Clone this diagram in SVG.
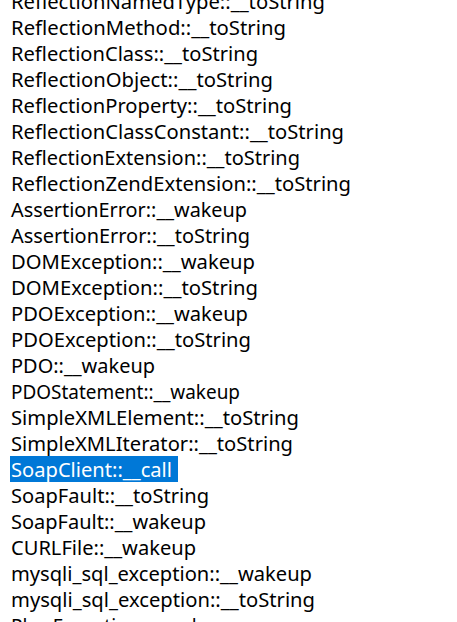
<svg xmlns="http://www.w3.org/2000/svg" width="457" height="622" viewBox="0 0 457 622">
<style>
text{font-family:"Noto Sans","Open Sans","DejaVu Sans",sans-serif;font-size:20px;fill:#000}
text.sel{fill:#fff}
</style>
<rect x="0" y="0" width="457" height="622" fill="#fff"/>
<g id="list">
<text x="11" y="9" textLength="314" lengthAdjust="spacingAndGlyphs">ReflectionNamedType::__toString</text>
<text x="11" y="35" textLength="275" lengthAdjust="spacingAndGlyphs">ReflectionMethod::__toString</text>
<text x="11" y="61" textLength="247" lengthAdjust="spacingAndGlyphs">ReflectionClass::__toString</text>
<text x="11" y="87" textLength="262" lengthAdjust="spacingAndGlyphs">ReflectionObject::__toString</text>
<text x="11" y="113" textLength="281" lengthAdjust="spacingAndGlyphs">ReflectionProperty::__toString</text>
<text x="11" y="139" textLength="333" lengthAdjust="spacingAndGlyphs">ReflectionClassConstant::__toString</text>
<text x="11" y="165" textLength="289" lengthAdjust="spacingAndGlyphs">ReflectionExtension::__toString</text>
<text x="11" y="191" textLength="340" lengthAdjust="spacingAndGlyphs">ReflectionZendExtension::__toString</text>
<text x="11" y="217" textLength="236" lengthAdjust="spacingAndGlyphs">AssertionError::__wakeup</text>
<text x="11" y="243" textLength="239" lengthAdjust="spacingAndGlyphs">AssertionError::__toString</text>
<text x="11" y="269" textLength="244" lengthAdjust="spacingAndGlyphs">DOMException::__wakeup</text>
<text x="11" y="295" textLength="247" lengthAdjust="spacingAndGlyphs">DOMException::__toString</text>
<text x="11" y="321" textLength="237" lengthAdjust="spacingAndGlyphs">PDOException::__wakeup</text>
<text x="11" y="347" textLength="240" lengthAdjust="spacingAndGlyphs">PDOException::__toString</text>
<text x="11" y="373" textLength="144" lengthAdjust="spacingAndGlyphs">PDO::__wakeup</text>
<text x="11" y="399" textLength="229" lengthAdjust="spacingAndGlyphs">PDOStatement::__wakeup</text>
<text x="11" y="425" textLength="288" lengthAdjust="spacingAndGlyphs">SimpleXMLElement::__toString</text>
<text x="11" y="451" textLength="282" lengthAdjust="spacingAndGlyphs">SimpleXMLIterator::__toString</text>
</g>
<g id="selected">
<rect x="10" y="456" width="168" height="26" fill="#0078d7"/>
<text class="sel" x="11" y="477" textLength="161" lengthAdjust="spacingAndGlyphs">SoapClient::__call</text>
</g>
<g id="list2">
<text x="11" y="503" textLength="198" lengthAdjust="spacingAndGlyphs">SoapFault::__toString</text>
<text x="11" y="529" textLength="195" lengthAdjust="spacingAndGlyphs">SoapFault::__wakeup</text>
<text x="11" y="555" textLength="185" lengthAdjust="spacingAndGlyphs">CURLFile::__wakeup</text>
<text x="11" y="581" textLength="301" lengthAdjust="spacingAndGlyphs">mysqli_sql_exception::__wakeup</text>
<text x="11" y="607" textLength="304" lengthAdjust="spacingAndGlyphs">mysqli_sql_exception::__toString</text>
<text x="11" y="633" textLength="225" lengthAdjust="spacingAndGlyphs">PharException::__wakeup</text>
</g>
</svg>
